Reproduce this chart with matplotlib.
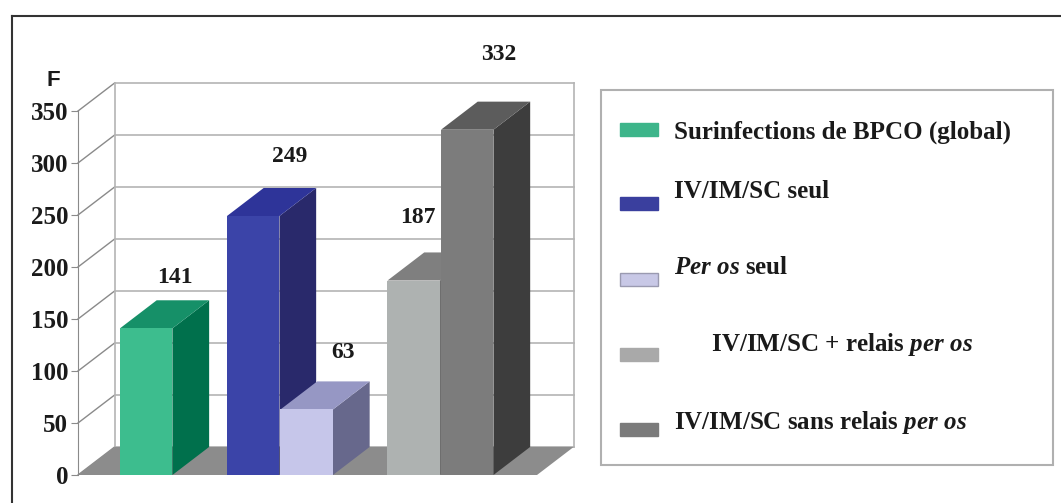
import matplotlib
matplotlib.use("Agg")
import matplotlib.pyplot as plt
from matplotlib.patches import Polygon, Rectangle

# données : nombre de cas par mode d'administration
labels = [
    "Surinfections de BPCO (global)",
    "IV/IM/SC seul",
    r"$\mathit{Per\ os}$ seul",
    r"      IV/IM/SC + relais $\mathit{per\ os}$",
    r"IV/IM/SC sans relais $\mathit{per\ os}$",
]
values = [141, 249, 63, 187, 332]
yticks = [0, 50, 100, 150, 200, 250, 300, 350]

# mise en page des barres (bord gauche, largeur 1)
bar_left = [0.8, 2.84, 3.86, 5.9, 6.92]
label_dx = [1.05, 1.2, 1.2, 0.58, 1.1]
label_dy = [49, 57, 55, 61, 72]

front = ["#3dbd8e", "#3b44a8", "#c6c6ea", "#aeb2b1", "#7c7c7c"]
top = ["#169068", "#2e3499", "#9697c4", "#7f7f7f", "#5c5c5c"]
side = ["#00704c", "#29296b", "#67688c", "#6e6e6e", "#3d3d3d"]
swatch = ["#3db58a", "#3a3f9e", "#c8c8e6", "#a9a9a9", "#7b7b7b"]

plt.rcParams["mathtext.fontset"] = "custom"
plt.rcParams["mathtext.rm"] = "Liberation Serif:bold"
plt.rcParams["mathtext.it"] = "Liberation Serif:italic:bold"
plt.rcParams["mathtext.bf"] = "Liberation Serif:bold"

W, H = 1061, 503
fig = plt.figure(figsize=(W / 100, H / 100), dpi=100)

# calque en pixels pour le cadre et la légende
lay = fig.add_axes([0, 0, 1, 1])
lay.set_xlim(0, W)
lay.set_ylim(H, 0)
lay.axis("off")
lay.plot([12, W], [16, 16], color="#333333", lw=1.5)
lay.plot([12, 12], [16, H], color="#333333", lw=1.5)
lay.add_patch(Rectangle((601, 90), 452, 375, fill=False, ec="#b0b0b0", lw=1.5))

text_y = [132, 192, 268, 345, 423]
sw_y = [129, 203, 279, 354, 429]
for i, lab in enumerate(labels):
    ec = "#9a9ab0" if i == 2 else swatch[i]
    lay.add_patch(Rectangle((620, sw_y[i] - 6.5), 38, 13, fc=swatch[i], ec=ec, lw=1))
    lay.text(674, text_y[i], lab, fontsize=18, fontfamily="Liberation Serif",
             fontweight="bold", va="center", ha="left", color="#1a1a1a")

# graphique pseudo-3D
x_max = 8.75
ax = fig.add_axes([78 / W, (H - 475) / H, (537 - 78) / W, (475 - 111) / H])
ax.set_xlim(0, x_max)
ax.set_ylim(0, 350)
dx, dd = 0.70, 27  # profondeur

for s in ["top", "right", "bottom"]:
    ax.spines[s].set_visible(False)
ax.spines["left"].set_color("#8a8a8a")
ax.set_xticks([])
ax.set_yticks(yticks)
ax.tick_params(axis="y", length=5, color="#8a8a8a", pad=2)
for t in ax.get_yticklabels():
    t.set_fontfamily("Liberation Serif")
    t.set_fontweight("bold")
    t.set_fontsize(18)
    t.set_color("#1a1a1a")
ax.patch.set_visible(False)

# paroi du fond et lignes de la paroi gauche
for v in yticks:
    ax.plot([0, dx], [v, v + dd], color="#8a8a8a", lw=1, clip_on=False, zorder=1)
    ax.plot([dx, x_max + dx], [v + dd, v + dd], color="#b4b4b4", lw=1.2,
            clip_on=False, zorder=1)
ax.plot([dx, dx], [dd, 350 + dd], color="#b4b4b4", lw=1.2, clip_on=False, zorder=1)
ax.plot([x_max + dx] * 2, [dd, 350 + dd], color="#b4b4b4", lw=1.2, clip_on=False, zorder=1)

# sol
ax.add_patch(Polygon([(0, 0), (dx, dd), (x_max + dx, dd), (x_max, 0)],
                     closed=True, fc="#8c8c8c", ec="none", clip_on=False, zorder=2))

for i, v in enumerate(values):
    x0 = bar_left[i]
    z = 3 + i
    ax.add_patch(Polygon([(x0 + 1, 0), (x0 + 1 + dx, dd), (x0 + 1 + dx, v + dd), (x0 + 1, v)],
                         closed=True, fc=side[i], ec="none", clip_on=False, zorder=z))
    ax.add_patch(Polygon([(x0, v), (x0 + dx, v + dd), (x0 + 1 + dx, v + dd), (x0 + 1, v)],
                         closed=True, fc=top[i], ec="none", clip_on=False, zorder=z))
    ax.add_patch(Rectangle((x0, 0), 1, v, fc=front[i], ec="none", clip_on=False, zorder=z))
    ax.text(x0 + label_dx[i], v + label_dy[i], str(v), fontsize=17,
            fontfamily="Liberation Serif", fontweight="bold", ha="center", va="center",
            color="#1a1a1a", zorder=10)

ax.text(-0.48, 379, "F", fontsize=16, fontfamily="Liberation Sans", fontweight="bold",
        ha="center", va="center", color="#1a1a1a")

fig.savefig("out.png", dpi=100)
